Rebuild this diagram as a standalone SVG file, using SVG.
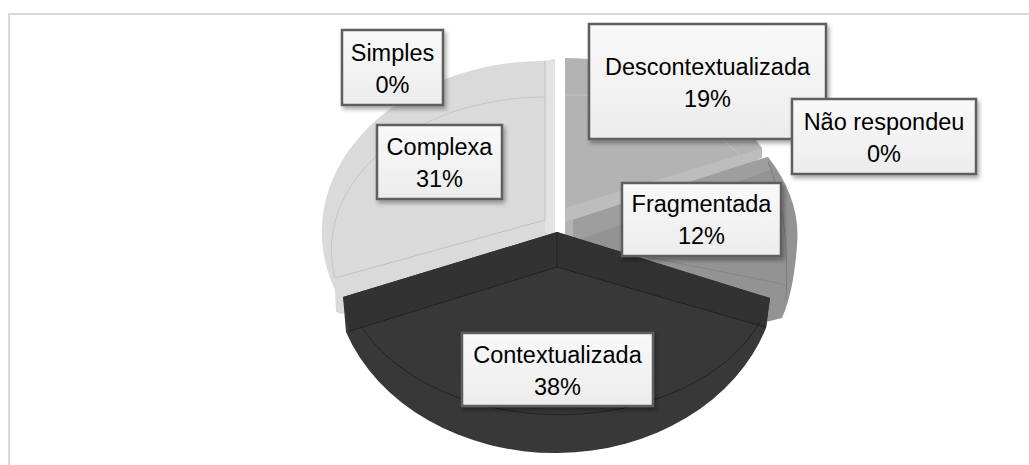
<svg xmlns="http://www.w3.org/2000/svg" width="1029" height="465" viewBox="0 0 1029 465">
<defs>
<style>
.lbl rect{fill:url(#boxg);stroke:#5f5f5f;stroke-width:2.5;filter:url(#sh)}
.lbl text{font-family:"Liberation Sans",Arial,sans-serif;font-size:23.5px;fill:#000;text-anchor:middle}
.ln{fill:none;stroke-width:1}
</style>
<linearGradient id="boxg" x1="0" y1="0" x2="0" y2="1">
<stop offset="0" stop-color="#f9f9f9"/>
<stop offset="1" stop-color="#ececec"/>
</linearGradient>
<filter id="sh" x="-10%" y="-10%" width="130%" height="140%">
<feDropShadow dx="2" dy="3" stdDeviation="2" flood-color="#000" flood-opacity="0.35"/>
</filter>
</defs>
<rect width="1029" height="465" fill="#fff"/>
<path d="M9,465 L9,14 L1029,14" fill="none" stroke="#d9d9d9" stroke-width="2"/>

<g id="slice-complexa">
<path d="M545,61 L555,59 L555,240 L342,314 L336,312 L335,290 A223 171 0 0 1 545,61 Z" fill="#dadada"/>
<path d="M545,61 L555,59 L555,240 L545,232 Z" fill="#e3e3e3"/>
<path class="ln" d="M335,278 A214 153 0 0 1 545,97" stroke="#c6c6c6"/>
<path class="ln" d="M335,278 L545,220 L545,61" stroke="#c0c0c0"/>
</g>

<g id="slice-descontextualizada">
<path d="M565,58 A224 174 0 0 1 762,148 L762,158 L565,246 Z" fill="#b3b3b3"/>
<path class="ln" d="M565,95 A205 150 0 0 1 745,160" stroke="#c4c4c4"/>
<path d="M762,148 L565,208 L565,222 L762,158 Z" fill="#bdbdbd"/>
</g>

<g id="slice-fragmentada">
<path d="M573,220 L768,157 C790,185 800,215 797,245 C795,275 790,300 782,318 L766,322 L573,258 Z" fill="#939393"/>
<path d="M573,220 L768,157 L770,170 L573,242 Z" fill="#9e9e9e"/>
<path class="ln" d="M768,162 C782,195 789,240 786,300" stroke="#7d7d7d"/>
<path class="ln" d="M573,242 L787,285" stroke="#858585"/>
</g>

<g id="slice-contextualizada">
<path d="M557,232 L770,298 L766,328 A222 182 0 0 1 346,332 L343,297 Z" fill="#383838"/>
<path d="M557,232 L770,298 L766,328 L557,267 L350,331 L343,297 Z" fill="#323232"/>
<path class="ln" d="M350,331 L557,267 L765,327 M557,232 L557,267" stroke="#222"/>
<path class="ln" d="M362,327 A215 145 0 0 0 760,322" stroke="#222"/>
</g>

<g id="connectors"></g>

<g id="label-simples" class="lbl">
<rect x="342" y="30" width="101" height="75"/>
<text x="392.5" y="61">Simples</text>
<text x="392.5" y="93">0%</text>
</g>
<g id="label-complexa" class="lbl">
<rect x="377" y="125" width="125" height="74"/>
<text x="439.5" y="155">Complexa</text>
<text x="439.5" y="187">31%</text>
</g>
<g id="label-descontextualizada" class="lbl">
<rect x="589" y="24" width="237" height="115"/>
<text x="707.5" y="75">Descontextualizada</text>
<text x="707.5" y="107">19%</text>
</g>
<g id="label-nao-respondeu" class="lbl">
<rect x="792" y="99" width="184" height="75"/>
<text x="884" y="129.5">Não respondeu</text>
<text x="884" y="161.5">0%</text>
</g>
<g id="label-fragmentada" class="lbl">
<rect x="622" y="183" width="159" height="73"/>
<text x="701.5" y="212">Fragmentada</text>
<text x="701.5" y="244">12%</text>
</g>
<g id="label-contextualizada" class="lbl">
<rect x="462" y="333" width="191" height="73"/>
<text x="557.5" y="362.5">Contextualizada</text>
<text x="557.5" y="395">38%</text>
</g>
</svg>
